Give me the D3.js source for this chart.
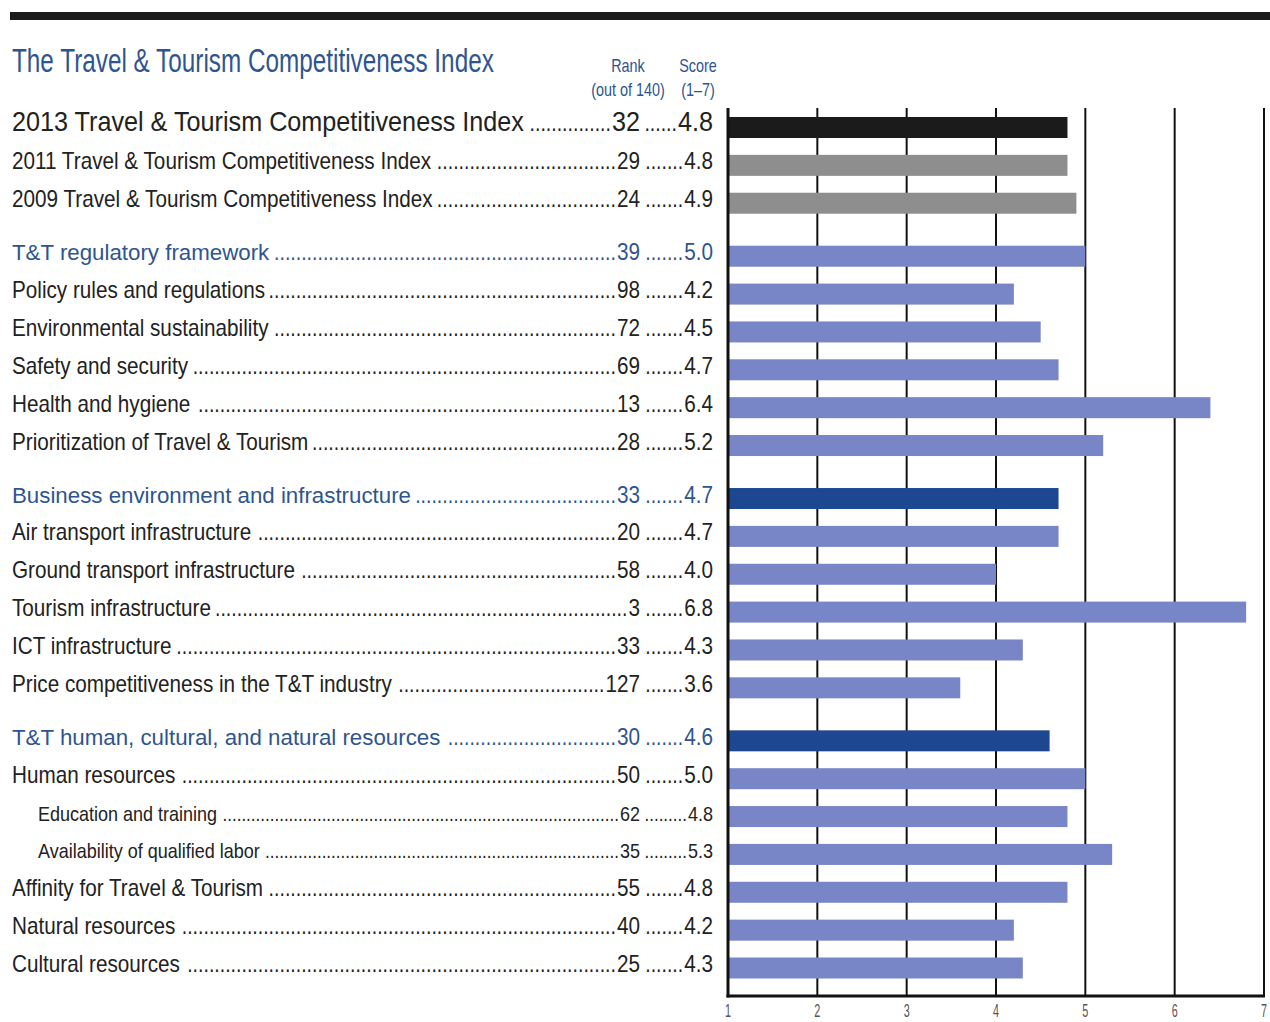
<!DOCTYPE html>
<html>
<head>
    <meta charset="utf-8" />
    <script src="https://d3js.org/d3.v7.min.js"></script>
    <style>
        body { margin: 0; background: #fff; }
        text { font-family: "Liberation Sans", Arial, sans-serif; }
    </style>
</head>
<body>
<svg></svg>
<script>
    // chart data
    const labels = [
        "2013 Travel & Tourism Competitiveness Index",
        "2011 Travel & Tourism Competitiveness Index",
        "2009 Travel & Tourism Competitiveness Index",
        "T&T regulatory framework",
        "Policy rules and regulations",
        "Environmental sustainability",
        "Safety and security",
        "Health and hygiene",
        "Prioritization of Travel & Tourism",
        "Business environment and infrastructure",
        "Air transport infrastructure",
        "Ground transport infrastructure",
        "Tourism infrastructure",
        "ICT infrastructure",
        "Price competitiveness in the T&T industry",
        "T&T human, cultural, and natural resources",
        "Human resources",
        "Education and training",
        "Availability of qualified labor",
        "Affinity for Travel & Tourism",
        "Natural resources",
        "Cultural resources"
    ];
    const ranks = [32, 29, 24, 39, 98, 72, 69, 13, 28, 33, 20, 58, 3, 33, 127, 30, 50, 62, 35, 55, 40, 25];
    const scores = [4.8, 4.8, 4.9, 5.0, 4.2, 4.5, 4.7, 6.4, 5.2, 4.7, 4.7, 4.0, 6.8, 4.3, 3.6, 4.6, 5.0, 4.8, 5.3, 4.8, 4.2, 4.3];
    // row kind and section grouping
    const kinds = ["overall", "previous", "previous",
        "subindex", "pillar", "pillar", "pillar", "pillar", "pillar",
        "subindex", "pillar", "pillar", "pillar", "pillar", "pillar",
        "subindex", "pillar", "subpillar", "subpillar", "pillar", "pillar", "pillar"];
    const groups = [0, 0, 0, 1, 1, 1, 1, 1, 1, 2, 2, 2, 2, 2, 2, 3, 3, 3, 3, 3, 3, 3];
    const darkBars = ["Business environment and infrastructure", "T&T human, cultural, and natural resources"];
    const ticks = [1, 2, 3, 4, 5, 6, 7];

    const width = 1270, height = 1022;
    const svg = d3.select("svg").attr("width", width).attr("height", height);

    const rows = labels.map((name, i) => ({
        name, rank: ranks[i], score: scores[i], kind: kinds[i],
        slot: i + groups[i] * 0.4
    }));

    const x = d3.scaleLinear().domain([1, 7]).range([728, 1264]);
    const y = d3.scaleLinear().domain([0, d3.max(rows, d => d.slot)]).range([127.5, 968]);
    const plotTop = 108, plotBottom = 996;
    const barH = 21;

    const blue = "#2e5590";
    const barColor = d => {
        if (d.kind === "overall") return "#1b1b1b";
        if (d.kind === "previous") return "#8e8e8e";
        if (darkBars.includes(d.name)) return "#1d4790";
        return "#7885c6";
    };
    const fontSize = d => d.kind === "overall" ? 28 : d.kind === "subpillar" ? 20 : 23;
    const textColor = d => d.kind === "subindex" ? blue : "#222";
    // no narrow font installed, so squeeze text horizontally around its anchor
    const squeezeOf = d => d.kind === "subindex" ? 0.97 : 0.9;

    function squeeze(sel, ax, k) {
        sel.attr("transform", `translate(${ax},0) scale(${k},1) translate(${-ax},0)`);
        return sel;
    }

    // top rule
    svg.append("rect").attr("x", 10).attr("y", 12).attr("width", 1260).attr("height", 8).attr("fill", "#1b1b1b");

    // title + column headers
    const title = svg.append("text").attr("x", 12).attr("y", 72)
        .attr("font-size", 34).attr("fill", blue)
        .text("The Travel & Tourism Competitiveness Index");
    squeeze(title, 12, 482 / title.node().getComputedTextLength());

    const heads = [["Rank", "(out of 140)", 628], ["Score", "(1–7)", 698]];
    heads.forEach(h => {
        squeeze(svg.append("text").attr("x", h[2]).attr("y", 72).attr("text-anchor", "middle")
            .attr("font-size", 18).attr("fill", blue).text(h[0]), h[2], 0.8);
        squeeze(svg.append("text").attr("x", h[2]).attr("y", 96).attr("text-anchor", "middle")
            .attr("font-size", 18).attr("fill", blue).text(h[1]), h[2], 0.8);
    });

    // gridlines (under the bars)
    svg.append("g").selectAll("line")
        .data(ticks.slice(1))
        .join("line")
        .attr("x1", d => x(d)).attr("x2", d => x(d))
        .attr("y1", plotTop).attr("y2", plotBottom)
        .attr("stroke", "#111").attr("stroke-width", 2);

    // bars
    svg.append("g").selectAll("rect")
        .data(rows)
        .join("rect")
        .attr("x", x(1))
        .attr("y", d => y(d.slot) - barH / 2)
        .attr("width", d => x(d.score) - x(1))
        .attr("height", barH)
        .attr("fill", barColor);

    // axis lines
    svg.append("line").attr("x1", x(1)).attr("x2", x(1)).attr("y1", plotTop).attr("y2", plotBottom + 1.5)
        .attr("stroke", "#111").attr("stroke-width", 3);
    svg.append("line").attr("x1", x(1) - 1.5).attr("x2", x(7) + 1).attr("y1", plotBottom).attr("y2", plotBottom)
        .attr("stroke", "#111").attr("stroke-width", 3);

    // tick labels
    svg.append("g").selectAll("text")
        .data(ticks)
        .join("text")
        .attr("x", d => x(d)).attr("y", 1017)
        .attr("text-anchor", "middle").attr("font-size", 18).attr("fill", "#555")
        .text(d => d)
        .each(function (d) { squeeze(d3.select(this), x(d), 0.6); });

    // row texts with dot leaders
    const rankRight = 640, scoreRight = 713;
    const rowG = svg.append("g").selectAll("g")
        .data(rows)
        .join("g")
        .attr("transform", d => `translate(0,${y(d.slot) + (d.kind === "overall" ? 3 : 4)})`);

    rowG.each(function (d) {
        const g = d3.select(this);
        const fs = fontSize(d);
        const col = textColor(d);
        const k = squeezeOf(d);
        const x0 = d.kind === "subpillar" ? 38 : 12;
        const lab = squeeze(g.append("text").attr("x", x0).attr("font-size", fs).attr("fill", col).text(d.name), x0, k);
        const rk = squeeze(g.append("text").attr("x", rankRight).attr("text-anchor", "end")
            .attr("font-size", fs).attr("fill", col).text(d.rank), rankRight, 0.9);
        const sc = squeeze(g.append("text").attr("x", scoreRight).attr("text-anchor", "end")
            .attr("font-size", fs).attr("fill", col).text(d.score.toFixed(1)), scoreRight, 0.9);

        const labEnd = x0 + lab.node().getComputedTextLength() * k;
        const rkStart = rankRight - rk.node().getComputedTextLength() * 0.9;
        const scStart = scoreRight - sc.node().getComputedTextLength() * 0.9;

        const dotFs = d.kind === "overall" ? 23 : fs;
        const probe = g.append("text").attr("font-size", dotFs).text("..........");
        const dotW = probe.node().getComputedTextLength() / 10 * 0.85;
        probe.remove();

        const leader = (a, b) => {
            const n = Math.max(0, Math.floor((b - a - 1) / dotW));
            squeeze(g.append("text").attr("x", b - 1).attr("text-anchor", "end")
                .attr("font-size", dotFs).attr("fill", col).text(".".repeat(n)), b - 1, 0.85);
        };
        leader(labEnd + 3, rkStart);
        leader(rankRight + 4, scStart);
    });
</script>
</body>
</html>
